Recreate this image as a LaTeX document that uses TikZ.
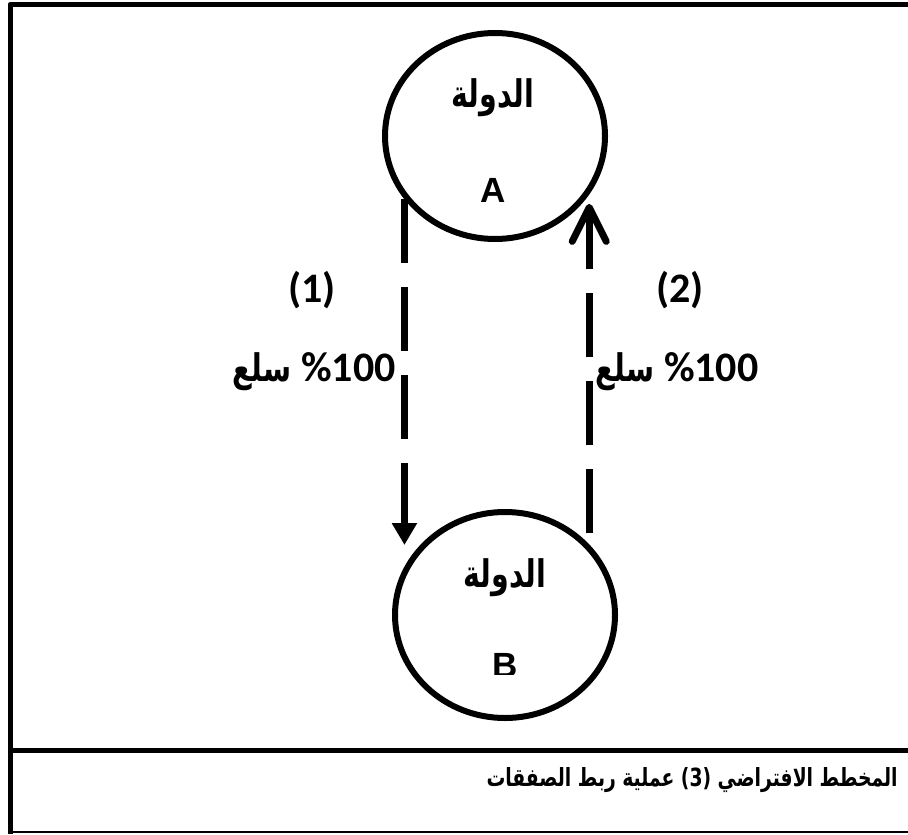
\documentclass[tikz,border=0pt]{standalone}
\usepackage{fontspec}
\setmainfont{Liberation Sans}
\newfontfamily\arabicfont[Script=Arabic,FakeStretch=0.75]{DejaVu Sans}
\newfontfamily\calfont{Carlito}
\TeXXeTstate=1
\usetikzlibrary{%
  arrows.meta,
  positioning,
  shapes.geometric
}
\tikzset{
  state/.style = {ellipse, draw, line width=3pt,
                  minimum width=110pt, minimum height=103pt, inner sep=0pt},
  flow/.style  = {line width=3.5pt, dash pattern=on 32pt off 12pt},
  arname/.style = {font=\arabicfont\bfseries\fontsize{19}{22}\selectfont},
  letter/.style = {font=\bfseries\fontsize{17.5}{20}\selectfont},
  numlab/.style = {font=\calfont\bfseries\fontsize{21}{25}\selectfont}
}

\begin{document}
\begin{tikzpicture}[x=0.5pt,y=-0.5pt]
  \useasboundingbox (0,0) rectangle (908,834);

  % frame
  \draw[line width=2.5pt, line join=round] (908,4.5) -- (10,4.5) -- (10,834);
  \draw[line width=2.5pt] (8,750) -- (908,750);
  \draw[line width=0.8pt] (8,832) -- (908,832);

  % the two states
  \node[state] (stA) at (495,136) {};
  \node[state] (stB) at (505,615) {};
  \node[arname] (nameA) at (493,98) {\beginR الدولة\endR};
  \node[letter] (letA) at (493,190) {A};
  \node[arname] (nameB) at (505,578) {\beginR الدولة\endR};
  \begin{scope}
    \clip (0,0) rectangle (908,674);
    \node[letter] (letB) at (505,665) {B};
  \end{scope}

  % flows
  \coordinate (tipL) at (405,545);
  \draw[flow, -{Triangle[length=11pt,width=12pt]}]
    (stA.215) -- (stA.215 |- tipL);
  \draw[flow, -{Straight Barb[length=17pt,width=17pt,round]},
        shorten <=5.5pt, shorten >=3pt]
    (stB.40) -- (stB.40 |- stA.326);

  \node[numlab] (num1) at (312,290) {(1)};
  \node[numlab] (num2) at (680,290) {(2)};
  \node[numlab, anchor=east, inner sep=0pt] (goods1) at (396,372)
    {{\arabicfont\fontsize{19}{22}\selectfont\beginR سلع\endR} \%100};
  \node[numlab, anchor=west, inner sep=0pt] (goods2) at (595,372)
    {{\arabicfont\fontsize{19}{22}\selectfont\beginR سلع\endR} \%100};

  % caption
  \node[anchor=east, inner sep=0pt, font=\arabicfont\bfseries\fontsize{12.5}{15}\selectfont] (caption) at (898,780)
    {\beginR المخطط الافتراضي \beginL(3)\endL{} عملية ربط الصفقات\endR};
\end{tikzpicture}
\end{document}
